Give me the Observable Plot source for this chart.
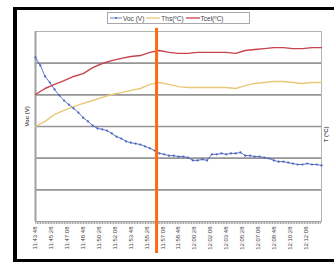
<!DOCTYPE html>
<html><head><meta charset="utf-8">
<script src="https://cdn.jsdelivr.net/npm/d3@7"></script>
<script src="https://cdn.jsdelivr.net/npm/@observablehq/plot@0.6"></script>
<style>
html,body{margin:0;padding:0;background:#fff;}
#wrap{position:relative;width:334px;height:262px;overflow:hidden;font-family:"Liberation Sans",Arial,sans-serif;background:#fff;}
#chart{position:absolute;left:0;top:0;}
#border{position:absolute;left:13px;top:7px;width:400px;height:255px;border-left:4px solid #000;border-top:3px solid #000;border-bottom:3px solid #000;box-sizing:border-box;pointer-events:none;}
#legend{position:absolute;left:107px;top:12px;width:143px;height:12px;border:1px solid #a8a8a8;box-sizing:border-box;background:#fff;display:flex;align-items:center;font-size:6.5px;color:#444;white-space:nowrap;}
#legend .it{display:flex;align-items:center;margin-left:2px;}
#legend svg{display:block;margin-right:1px;}
</style>
</head><body>
<div id="wrap"><div id="chart"></div><div id="border"></div><div id="legend"></div></div>
<script>
// ---- data ----
const startTime = "11:43:48";
const endTime = "12:13:48";
const vocStepSeconds = 30;
const tempStepSeconds = 60;
const markerTime = "11:56:30";
const xTickLabels = ["11:43:48","11:45:28","11:47:08","11:48:48","11:50:28","11:52:08","11:53:48","11:55:28","11:57:08","11:58:48","12:00:28","12:02:08","12:03:48","12:05:28","12:07:08","12:08:48","12:10:28","12:12:08"];
const seriesNames = ["Voc (V)", "Ths(ºC)", "Tcel(ºC)"];
const seriesColors = ["#4a64c0", "#e9c878", "#c8414c"];
const vocValues = [0.518,0.493,0.458,0.439,0.417,0.398,0.382,0.369,0.357,0.344,0.328,0.316,0.303,0.294,0.291,0.287,0.278,0.268,0.262,0.253,0.249,0.246,0.243,0.237,0.231,0.224,0.215,0.212,0.208,0.208,0.205,0.205,0.202,0.193,0.193,0.196,0.193,0.212,0.212,0.215,0.212,0.215,0.215,0.218,0.208,0.208,0.205,0.205,0.202,0.199,0.193,0.189,0.189,0.186,0.183,0.180,0.180,0.183,0.180,0.180,0.177];
const thsValues = [30.0,31.6,33.8,35.1,36.3,37.3,38.2,39.2,40.1,40.7,41.4,42.0,43.3,43.9,43.3,42.6,42.3,42.3,42.3,42.3,42.3,42.0,42.9,43.6,43.9,44.2,44.2,43.9,43.6,43.9,43.9];
const tcelValues = [40.1,42.0,43.3,44.5,45.8,46.7,48.6,49.9,50.8,51.5,52.1,52.4,53.4,54.0,53.4,53.1,53.1,53.4,53.4,53.4,53.4,53.1,54.0,54.3,54.6,54.9,54.9,54.6,54.6,54.9,54.9];
const tempGrid = [10, 20, 30, 40, 50];
const vocToTemp = 100; // 0.6 V on the left axis spans the same height as 60 ºC on the right

// ---- build ----
const parseT = s => new Date("2012-01-01T" + s);
const t0 = parseT(startTime), t1 = parseT(endTime);
const fmt = d3.timeFormat("%H:%M:%S");
const voc = vocValues.map((v, i) => ({t: new Date(+t0 + i * vocStepSeconds * 1000), v}));
const ths = thsValues.map((v, i) => ({t: new Date(+t0 + i * tempStepSeconds * 1000), v}));
const tcel = tcelValues.map((v, i) => ({t: new Date(+t0 + i * tempStepSeconds * 1000), v}));
const minorTicks = d3.timeSecond.every(10).range(t0, new Date(+t1 + 1));
const marker = [{t: parseT(markerTime), lo: -10.1, hi: 61}];

const plot = Plot.plot({
  width: 334, height: 262,
  marginLeft: 35, marginRight: 13, marginTop: 31, marginBottom: 41,
  style: {background: "transparent", fontFamily: "Liberation Sans, Arial, sans-serif"},
  x: {type: "time", domain: [t0, t1]},
  y: {domain: [0, 60], axis: null},
  marks: [
    Plot.frame({stroke: "#b4b4b4", strokeWidth: 1}),
    Plot.gridY(tempGrid, {stroke: "#959595", strokeOpacity: 1, strokeWidth: 1.6}),
    Plot.ruleX([t0], {stroke: "#a0a0a0", strokeWidth: 2}),
    Plot.ruleY([0], {stroke: "#a0a0a0", strokeWidth: 1.2}),
    Plot.axisX({ticks: minorTicks, tickSize: 3, tickFormat: () => "", stroke: "#a0a0a0", label: null}),
    Plot.axisX({ticks: xTickLabels.map(parseT), tickSize: 0, tickPadding: 5, tickRotate: -90, tickFormat: fmt, fontSize: 6, fill: "#444", label: null}),
    Plot.line(tcel, {x: "t", y: "v", stroke: seriesColors[2], strokeWidth: 1.4}),
    Plot.line(ths, {x: "t", y: "v", stroke: seriesColors[1], strokeWidth: 1.4}),
    Plot.line(voc, {x: "t", y: d => d.v * vocToTemp, stroke: seriesColors[0], strokeWidth: 0.9}),
    Plot.dot(voc, {x: "t", y: d => d.v * vocToTemp, r: 1.1, fill: seriesColors[0], stroke: null}),
    Plot.ruleX(marker, {x: "t", y1: "lo", y2: "hi", stroke: "#ff6a10", strokeWidth: 3}),
    Plot.text(["Voc (V)"], {frameAnchor: "left", dx: -8, rotate: -90, fontSize: 6, fontWeight: "bold", fill: "#555"}),
    Plot.text(["T (ºC)"], {frameAnchor: "right", dx: 5, rotate: -90, fontSize: 6, fontWeight: "bold", fill: "#555"})
  ]
});
document.getElementById("chart").appendChild(plot);

// legend
const lg = document.getElementById("legend");
seriesNames.forEach((name, i) => {
  const it = document.createElement("span");
  it.className = "it";
  const w = i === 0 ? 12 : 14;
  let sw = `<svg width="${w}" height="6"><line x1="0" y1="3" x2="${w}" y2="3" stroke="${seriesColors[i]}" stroke-width="${i===0?0.8:1.3}"/>`;
  if (i === 0) sw += `<circle cx="${w/2}" cy="3" r="1" fill="${seriesColors[i]}"/>`;
  sw += `</svg>`;
  it.innerHTML = sw + `<span>${name}</span>`;
  lg.appendChild(it);
});
</script>
</body></html>
